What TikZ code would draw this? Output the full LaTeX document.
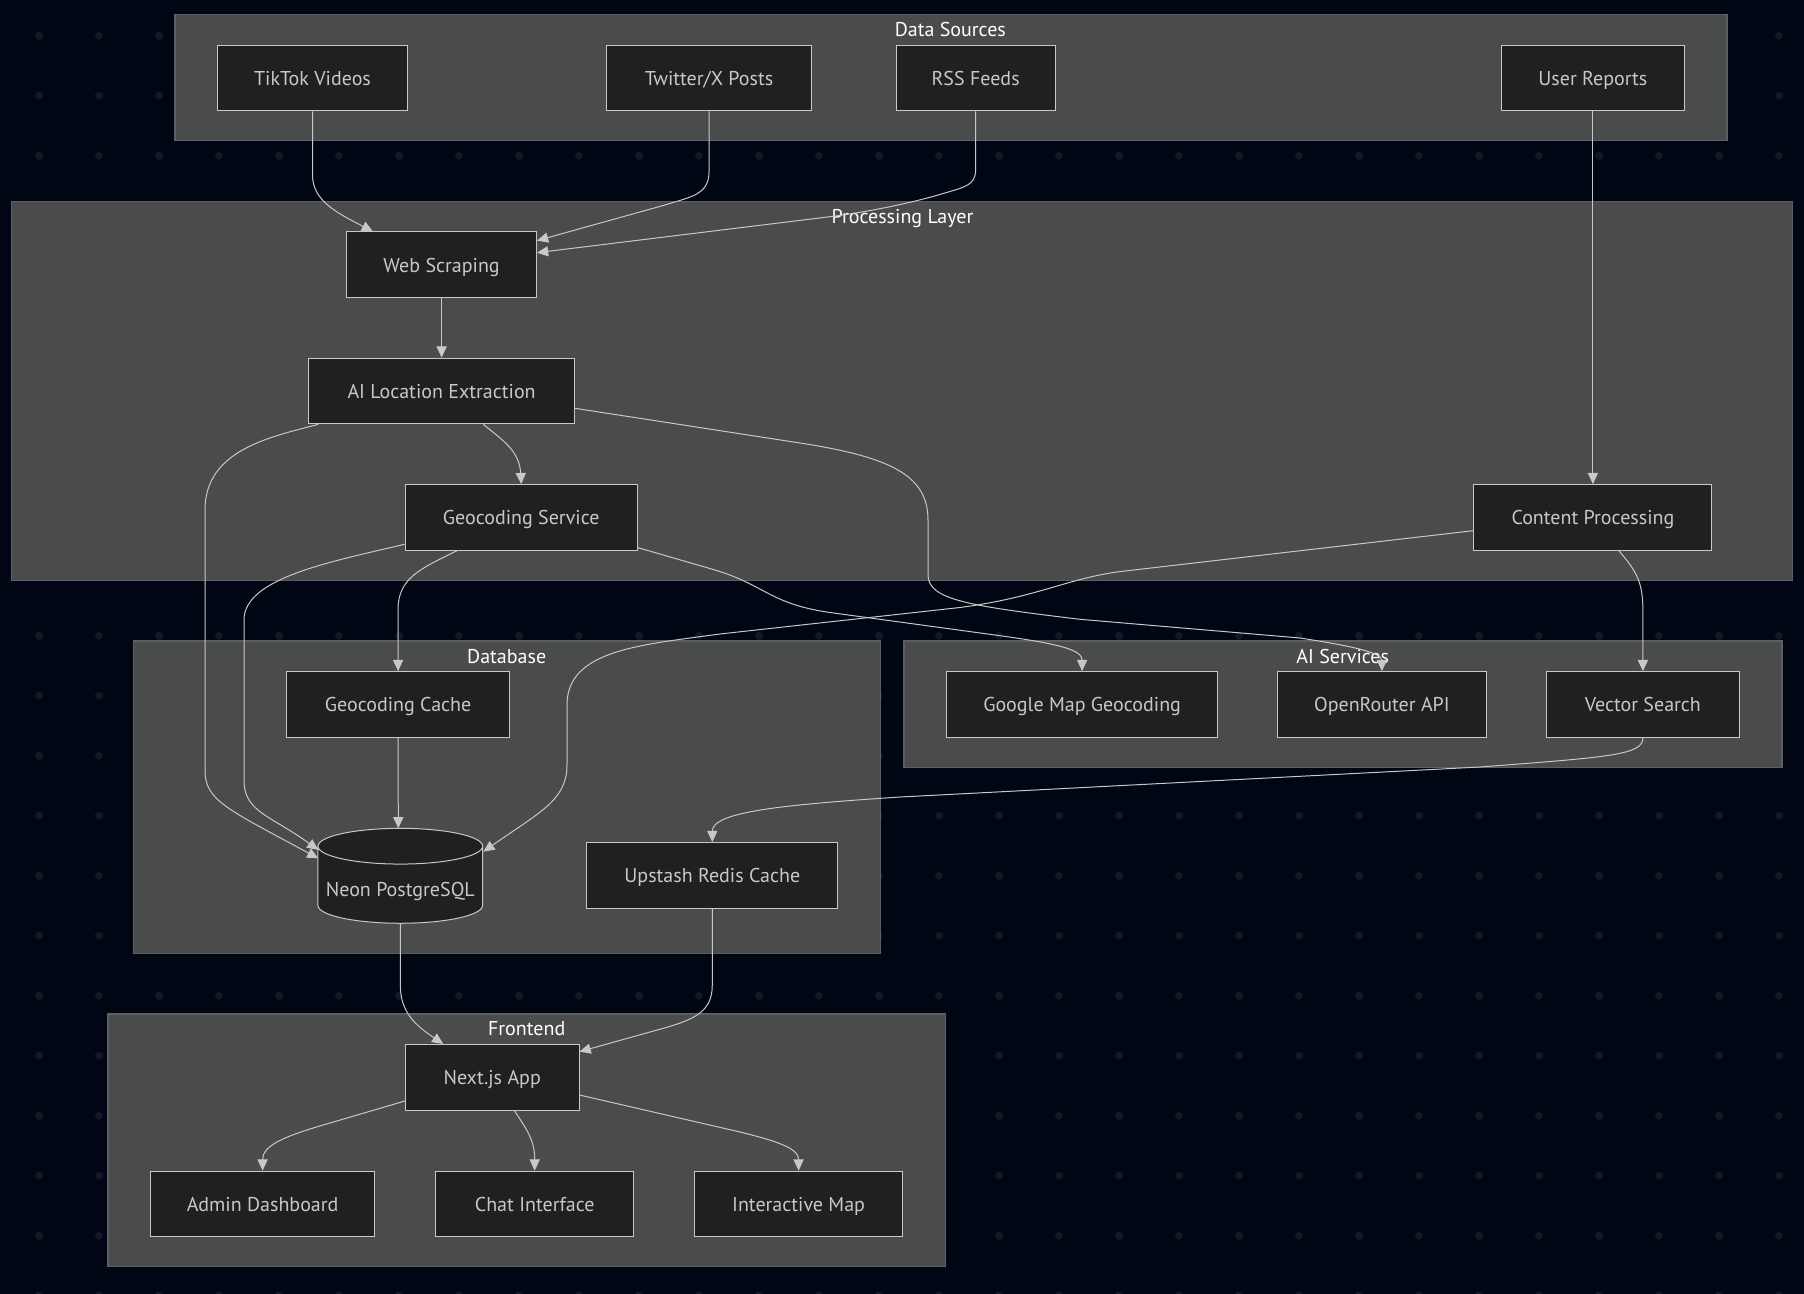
\documentclass[tikz,border=0pt]{standalone}
\usepackage{fontspec}
\usepackage{xcolor}
\setmainfont{PT Sans}
\usetikzlibrary{arrows.meta,shapes.geometric}
\definecolor{pagebg}{HTML}{000613}
\definecolor{dotcol}{HTML}{141824}
\definecolor{groupbg}{HTML}{4A4C4B}
\definecolor{groupline}{HTML}{5C6066}
\definecolor{boxbg}{HTML}{1F2020}
\definecolor{boxline}{HTML}{C8C8C8}

\begin{document}
\begin{tikzpicture}[x=0.75pt, y=-0.75pt, >={Triangle[length=8.4pt,width=7.6pt]},
    group/.style={draw=groupline, fill=groupbg, line width=0.8pt, inner sep=0pt},
    grouptitle/.style={text=white, font=\fontsize{15pt}{17pt}\selectfont, inner sep=0pt, text height=13pt, text depth=2.5pt},
    box/.style={draw=boxline, fill=boxbg, line width=0.75pt, text=boxline, inner sep=0pt, minimum height=49.3pt, text height=13.4pt, text depth=2.5pt, font=\fontsize{15pt}{17pt}\selectfont},
    flow/.style={->, draw=boxline, line width=0.75pt}]

  \useasboundingbox (0,0) rectangle (1804,1294);
  \fill[pagebg] (0,0) rectangle (1804,1294);
  \foreach \i in {0,...,29}
    \foreach \j in {0,...,21}
      \fill[dotcol] (39+60*\i,35.7+60*\j) circle (3pt);

  \node[group, minimum width=1164pt, minimum height=95pt] (srcs) at (951,77.6) {};
  \node[group, minimum width=1335.5pt, minimum height=284.6pt] (proc) at (902.2,391) {};
  \node[group, minimum width=560pt, minimum height=234.2pt] (db) at (506.75,797.15) {};
  \node[group, minimum width=658.5pt, minimum height=95pt] (aisvc) at (1343,704.35) {};
  \node[group, minimum width=628.3pt, minimum height=189.5pt] (front) at (526.85,1140.35) {};

  \node[grouptitle] (srcstitle) at (950.3,29.3) {Data Sources};
  \node[grouptitle] (proctitle) at (902.5,216.7) {Processing Layer};
  \node[grouptitle] (dbtitle) at (506.7,656) {Database};
  \node[grouptitle] (aisvctitle) at (1342.7,656) {AI Services};
  \node[grouptitle] (fronttitle) at (526.7,1028.3) {Frontend};

  \node[box, minimum width=142.6pt] (tiktok) at (312.5,78) {TikTok Videos};
  \node[box, minimum width=154pt] (twitter) at (709,78) {Twitter/X Posts};
  \node[box, minimum width=119.2pt] (rss) at (975.6,78) {RSS Feeds};
  \node[box, minimum width=137.2pt] (user) at (1592.9,78) {User Reports};
  \node[box, minimum width=142.3pt] (web) at (441.6,264.8) {Web Scraping};
  \node[box, minimum width=199.5pt] (ailoc) at (441.6,391) {AI Location Extraction};
  \node[box, minimum width=174.3pt] (geo) at (521.2,517.5) {Geocoding Service};
  \node[box, minimum width=178.6pt] (content) at (1592.9,517.5) {Content Processing};
  \node[box, minimum width=167.4pt] (cache) at (398.1,704.5) {Geocoding Cache};
  \node[box, minimum width=202.8pt] (google) at (1082.1,704.5) {Google Map Geocoding};
  \node[box, minimum width=156.5pt] (router) at (1381.9,704.5) {OpenRouter API};
  \node[box, minimum width=144.7pt] (vector) at (1642.9,704.5) {Vector Search};
  \node[box, cylinder, shape border rotate=90, aspect=0.24, anchor=shape center, minimum width=123.5pt, minimum height=71.2pt, text height=19.4pt] (neon) at (400.3,875.8) {Neon PostgreSQL};
  \node[box, minimum width=188pt] (redis) at (712.3,875.5) {Upstash Redis Cache};
  \node[box, minimum width=130.3pt] (next) at (492.2,1077.3) {Next.js App};
  \node[box, minimum width=167.9pt] (admin) at (262.6,1204) {Admin Dashboard};
  \node[box, minimum width=148.9pt] (chat) at (534.7,1204) {Chat Interface};
  \node[box, minimum width=156.5pt] (map) at (798.6,1204) {Interactive Map};

  \draw[flow] (tiktok.south) -- (312.5,175) .. controls (312.5,200) and (335,212) .. ([xshift=-51.5pt]web.north);
  \draw[flow] (twitter.south) -- (709,172) .. controls (709,195) and (690,197) .. (665,205) -- ([yshift=18.1pt]web.east);
  \draw[flow] (rss.south) -- (975.6,170) .. controls (975.6,185) and (965,187) .. (945,193) .. controls (905,205) and (860,213) .. (830,216.7) -- ([yshift=9.1pt]web.east);
  \draw[flow] (user.south) -- (content.north);
  \draw[flow] (web.south) -- (ailoc.north);
  \draw[flow] ([xshift=31.3pt]ailoc.south) .. controls (505,442) and (521,452) .. (521,478) -- (geo.north);
  \draw[flow] ([xshift=-92.5pt]ailoc.south) .. controls (270,437) and (205,450) .. (205,510) -- (205,770) .. controls (205,800) and (225,808) .. ([xshift=-61.5pt,yshift=13.1pt]neon.shape center);
  \draw[flow] ([yshift=-13pt]ailoc.east) -- (800,443) .. controls (890,457) and (928,475) .. (928,520) -- (928,575) .. controls (928,600) and (970,606) .. (1080,619.3) -- (1300,638) .. controls (1345,645) and (1381.9,652) .. (router.north);
  \draw[flow] ([xshift=-48.4pt]geo.south) .. controls (420,569) and (398,578) .. (398,610) -- (cache.north);
  \draw[flow] ([yshift=-20.1pt]geo.west) .. controls (330,562) and (244,578) .. (244,620) -- (244,780) .. controls (244,812) and (270,815) .. ([xshift=-61.5pt,yshift=19.4pt]neon.shape center);
  \draw[flow] ([yshift=-22.6pt]geo.east) -- (715,570) .. controls (765,585) and (770,604) .. (830,612.5) -- (1000,635.7) .. controls (1060,644) and (1082.1,650) .. (google.north);
  \draw[flow] ([yshift=-9.9pt]content.west) -- (1125,571) .. controls (1070,577) and (1040,597) .. (960,607.5) -- (720,634) .. controls (640,645) and (567,650) .. (567,705) -- (567,765) .. controls (567,800) and (540,812) .. ([xshift=62.3pt,yshift=18.1pt]neon.shape center);
  \draw[flow] ([xshift=19.6pt]content.south) .. controls (1635,570) and (1642.9,580) .. (1642.9,610) -- (vector.north);
  \draw[flow] (cache.south) -- ([xshift=-1.5pt,yshift=35.6pt]neon.shape center);
  \draw[flow] (vector.south) .. controls (1642.9,755) and (1610,757) .. (1480,767) -- (900,797) .. controls (780,805) and (712.3,812) .. (redis.north);
  \draw[flow] ([yshift=-35.6pt]neon.shape center) -- (400.3,985) .. controls (400.3,1012) and (415,1025) .. ([xshift=-36.7pt]next.north);
  \draw[flow] (redis.south) -- (712.3,985) .. controls (712.3,1015) and (690,1021) .. (650,1032) -- ([yshift=19.2pt]next.east);
  \draw[flow] ([yshift=-17.8pt]next.west) -- (330,1123) .. controls (285,1136) and (262.6,1145) .. (admin.north);
  \draw[flow] ([xshift=16.7pt]next.south) .. controls (527,1130) and (534.7,1140) .. (chat.north);
  \draw[flow] ([yshift=-13.3pt]next.east) -- (740,1132) .. controls (785,1143) and (798.6,1150) .. (map.north);
\end{tikzpicture}
\end{document}
